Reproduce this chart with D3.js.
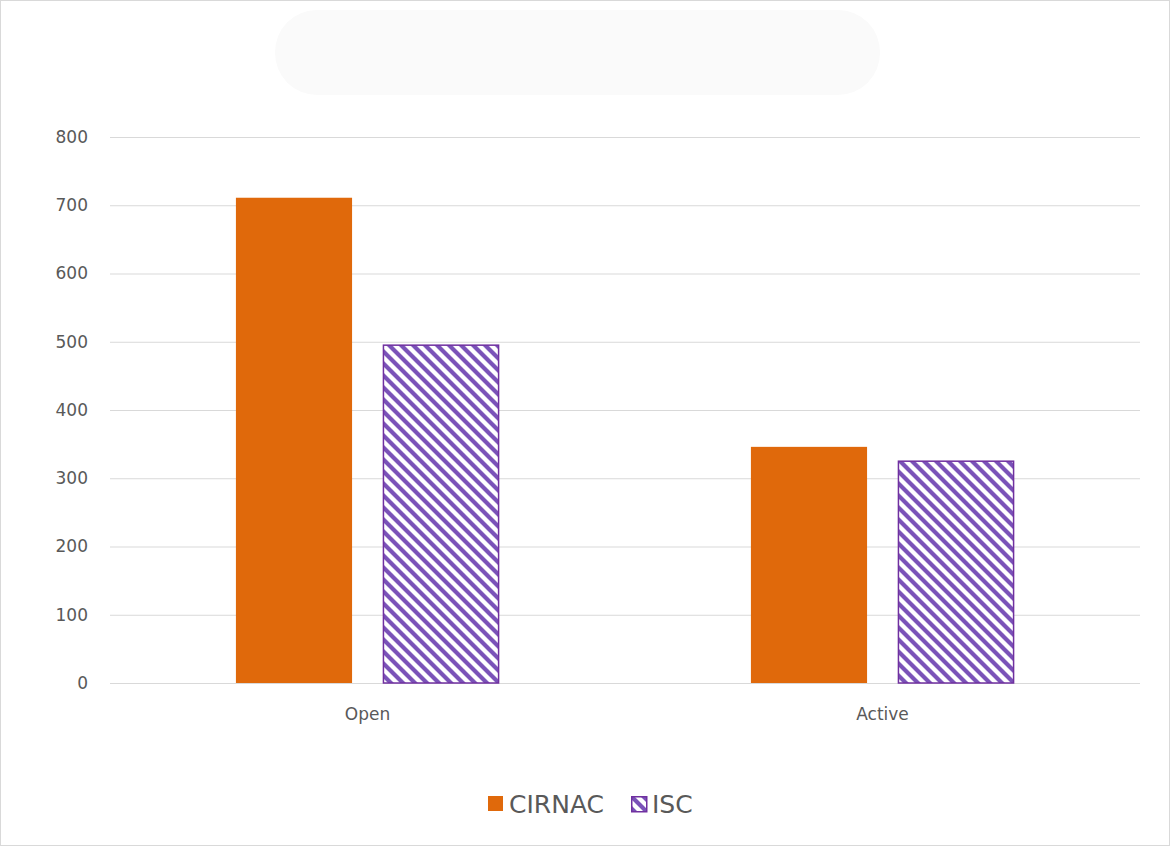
<!DOCTYPE html>
<html>
<head>
<meta charset="utf-8">
<script src="https://cdn.jsdelivr.net/npm/d3@7"></script>
<style>
body { margin: 0; background: #fff; }
svg { display: block; font-family: "DejaVu Sans", sans-serif; }
</style>
</head>
<body>
<svg id="chart" width="1170" height="846"></svg>
<script>
const categories = ["Open", "Active"];
const series = ["CIRNAC", "ISC"];
const cirnacValues = [711, 346];
const iscValues = [495, 325];
const yTicks = [0, 100, 200, 300, 400, 500, 600, 700, 800];

const svg = d3.select("#chart");
const margin = { top: 137, right: 30, bottom: 163, left: 110 };
const W = 1170, H = 846;

// outer border
svg.append("rect").attr("x", 0.5).attr("y", 0.5).attr("width", W - 1).attr("height", H - 1)
    .attr("fill", "#fff").attr("stroke", "#d9d9d9");

// faint title placeholder
svg.append("rect").attr("x", 275).attr("y", 10).attr("width", 605).attr("height", 85)
    .attr("rx", 42).attr("fill", "#fafafa");

const defs = svg.append("defs");
const pat = defs.append("pattern").attr("id", "hatch").attr("patternUnits", "userSpaceOnUse")
    .attr("width", 12).attr("height", 12);
pat.append("rect").attr("width", 12).attr("height", 12).attr("fill", "#fff");
pat.append("path").attr("d", "M-3,3 L3,9 M0,0 L12,12 M9,-3 L15,3 M-3,9 L3,15 M9,9 L15,15 M3,-3 L15,9 M-3,3 L9,15")
    .attr("stroke", "none");
pat.append("path").attr("d", "M0,0 L12,12 M-6,6 L6,18 M6,-6 L18,6")
    .attr("stroke", "#7a52b8").attr("stroke-width", 4.2);

const x0 = d3.scaleBand().domain(categories).range([margin.left, W - margin.right]).paddingInner(0.489).paddingOuter(0.2445);
const x1 = d3.scaleBand().domain(series).range([0, x0.bandwidth()]).paddingInner(0.21);
const y = d3.scaleLinear().domain([0, 800]).range([H - margin.bottom, margin.top]);

// gridlines
svg.append("g").selectAll("line").data(yTicks).join("line")
    .attr("x1", margin.left).attr("x2", W - margin.right)
    .attr("y1", d => y(d) + 0.5).attr("y2", d => y(d) + 0.5)
    .attr("stroke", "#d9d9d9");

// y labels
svg.append("g").selectAll("text").data(yTicks).join("text")
    .attr("x", 88).attr("y", d => y(d)).attr("dy", "0.35em")
    .attr("text-anchor", "end").attr("font-size", 17).attr("fill", "#595959")
    .text(d => d);

const rows = categories.map((c, i) => ({ cat: c, vals: [cirnacValues[i], iscValues[i]] }));
const g = svg.append("g").selectAll("g").data(rows).join("g")
    .attr("transform", d => `translate(${x0(d.cat)},0)`);
g.selectAll("rect").data(d => d.vals.map((v, j) => ({ s: series[j], v }))).join("rect")
    .attr("x", d => x1(d.s) + (d.s === "ISC" ? 0.5 : 0))
    .attr("y", d => y(d.v))
    .attr("width", d => x1.bandwidth() - (d.s === "ISC" ? 1 : 0))
    .attr("height", d => y(0) - y(d.v))
    .attr("fill", d => d.s === "CIRNAC" ? "#e0690b" : "url(#hatch)")
    .attr("stroke", d => d.s === "ISC" ? "#7030a0" : "none")
    .attr("stroke-width", 1.5);

// x labels
svg.append("g").selectAll("text").data(categories).join("text")
    .attr("x", d => x0(d) + x0.bandwidth() / 2).attr("y", 720)
    .attr("text-anchor", "middle").attr("font-size", 17).attr("fill", "#595959")
    .text(d => d);

// legend
const legend = [{ s: "CIRNAC", x: 488 }, { s: "ISC", x: 631 }];
const lg = svg.append("g").selectAll("g").data(legend).join("g")
    .attr("transform", d => `translate(${d.x},796)`);
lg.append("rect").attr("width", 15).attr("height", 15)
    .attr("x", d => d.s === "ISC" ? 0.75 : 0).attr("y", d => d.s === "ISC" ? 0.75 : 0)
    .attr("fill", d => d.s === "CIRNAC" ? "#e0690b" : "url(#hatch)")
    .attr("stroke", d => d.s === "ISC" ? "#7030a0" : "none").attr("stroke-width", 1.5);
lg.append("text").attr("x", 21).attr("y", 8).attr("dy", "0.35em")
    .attr("font-size", 25).attr("fill", "#595959").text(d => d.s);
</script>
</body>
</html>
